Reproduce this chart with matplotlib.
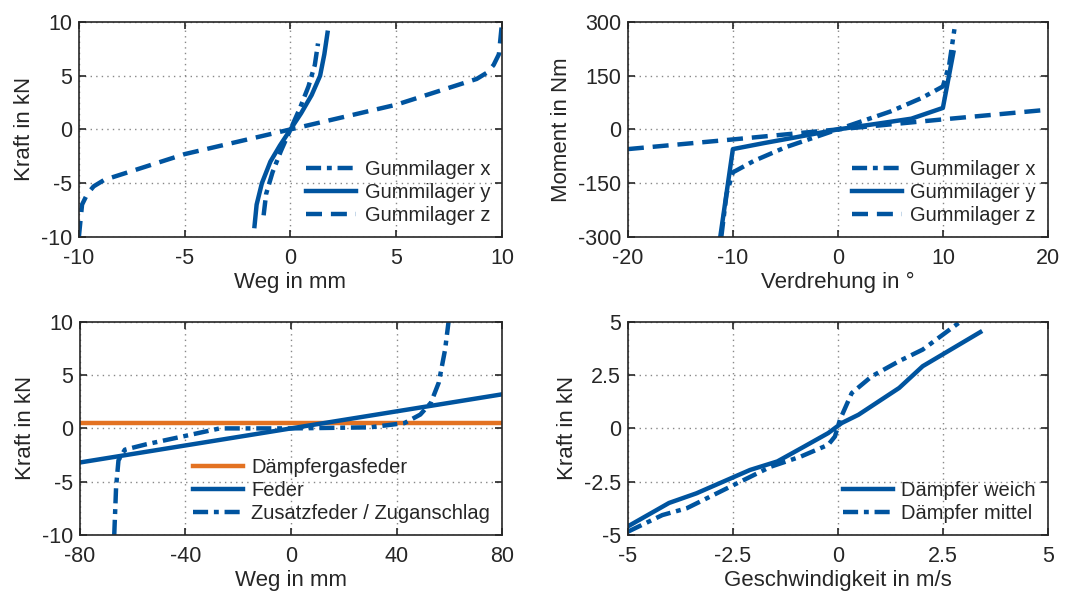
import matplotlib
matplotlib.use("Agg")
import matplotlib.pyplot as plt

plt.rcParams['font.family'] = ['Liberation Sans', 'DejaVu Sans']

blue = '#00549F'
orange = '#E37222'
dark = '#262626'

# Gummilager Kraft / Weg
gx_x = [-1.27, -1.15, -0.85, -0.45, 0, 0.45, 0.85, 1.15, 1.3]
gx_y = [-8, -6, -4, -2, 0, 2, 4, 6, 8]
gy_x = [-1.7, -1.6, -1.35, -0.95, -0.5, 0, 0.5, 1.0, 1.4, 1.6, 1.75]
gy_y = [-9, -7, -5, -3, -1.5, 0, 1.5, 3.2, 5, 7, 9]
gz_x = [-10, -9.85, -9.6, -9.3, -8.8, -5, 0, 5, 8.8, 9.3, 9.6, 9.85, 10]
gz_y = [-10, -7, -6, -5.3, -4.7, -2.3, 0, 2.3, 4.7, 5.3, 6, 7, 10]

# Gummilager Moment / Verdrehung
mx_x = [-11.1, -10.6, -10, -8, -5, -2, 0, 2, 5, 8, 10, 10.6, 11.1]
mx_y = [-300, -180, -120, -88, -50, -20, 0, 20, 50, 88, 120, 180, 280]
my_x = [-11.2, -10, -7, -4, 0, 4, 7, 10, 11]
my_y = [-300, -55, -38, -22, 0, 17, 30, 60, 215]
mz_x = [-20, -10, 0, 10, 20]
mz_y = [-55, -28, 0, 28, 55]

# Feder
gas_x = [-80, 80]
gas_y = [0.5, 0.5]
feder_x = [-80, 80]
feder_y = [-3.2, 3.2]
zus_x = [-67, -66.3, -65.4, -63, -55, -40, -27, 0, 30, 43, 49, 53, 56, 58.4, 59.7]
zus_y = [-10, -5.5, -3, -2.0, -1.5, -0.7, 0.0, 0.0, 0.1, 0.5, 1.3, 2.4, 4.3, 7.4, 10]

# Daempfer
dw_x = [-5, -4.02, -3.37, -2.09, -1.44, -0.8, -0.23, 0.09, 0.49, 1.46, 2.02, 3.39]
dw_y = [-4.6, -3.5, -3.05, -1.95, -1.55, -0.85, -0.22, 0.25, 0.64, 1.9, 2.92, 4.52]
dm_x = [-5, -4.18, -3.6, -2.73, -1.6, -0.88, -0.23, -0.07, 0.05, 0.33, 0.81, 1.46, 2.02, 2.91]
dm_y = [-4.85, -4.07, -3.75, -2.9, -1.8, -1.32, -0.77, -0.38, 0.41, 1.66, 2.45, 3.16, 3.7, 5.0]

fig = plt.figure(figsize=(10.66, 5.95), dpi=100)
ax1 = fig.add_axes([0.074, 0.602, 0.397, 0.361])
ax2 = fig.add_axes([0.589, 0.602, 0.394, 0.361])
ax3 = fig.add_axes([0.075, 0.101, 0.396, 0.358])
ax4 = fig.add_axes([0.589, 0.101, 0.394, 0.358])

lw = 3.2
dd = (0, (3.4, 1.3, 1.1, 1.3))
dash = (0, (3.6, 2))


def style(ax, xlim, ylim, xt, yt, xlabel, ylabel):
    ax.set_xlim(xlim)
    ax.set_ylim(ylim)
    ax.set_xticks(xt)
    ax.set_yticks(yt)
    ax.grid(True, linestyle=(0, (1, 3)), color='#888888', linewidth=1.0)
    ax.tick_params(direction='in', top=True, right=True, labelsize=15.5,
                   colors=dark, length=5, width=1.2)
    ax.tick_params(axis='x', pad=8)
    ax.tick_params(axis='y', pad=5)
    for s in ax.spines.values():
        s.set_color(dark)
        s.set_linewidth(1.2)
    ax.set_xlabel(xlabel, fontsize=16, color=dark, labelpad=2)
    ax.set_ylabel(ylabel, fontsize=16, color=dark, labelpad=4)


def legend(ax, loc):
    leg = ax.legend(loc=loc, frameon=False, fontsize=14.5, handlelength=2.5,
                    handletextpad=0.4, labelspacing=0.2, borderaxespad=0.2)
    for t in leg.get_texts():
        t.set_color(dark)


ax1.plot(gx_x, gx_y, color=blue, lw=lw, ls=dd, label='Gummilager x')
ax1.plot(gy_x, gy_y, color=blue, lw=lw, ls='-', label='Gummilager y')
ax1.plot(gz_x, gz_y, color=blue, lw=lw, ls=dash, label='Gummilager z')
style(ax1, (-10, 10), (-10, 10), [-10, -5, 0, 5, 10], [-10, -5, 0, 5, 10],
      'Weg in mm', 'Kraft in kN')
legend(ax1, 'lower right')

ax2.plot(mx_x, mx_y, color=blue, lw=lw, ls=dd, label='Gummilager x')
ax2.plot(my_x, my_y, color=blue, lw=lw, ls='-', label='Gummilager y')
ax2.plot(mz_x, mz_y, color=blue, lw=lw, ls=dash, label='Gummilager z')
style(ax2, (-20, 20), (-300, 300), [-20, -10, 0, 10, 20], [-300, -150, 0, 150, 300],
      'Verdrehung in °', 'Moment in Nm')
legend(ax2, 'lower right')

ax3.plot(gas_x, gas_y, color=orange, lw=lw, ls='-', label='Dämpfergasfeder')
ax3.plot(feder_x, feder_y, color=blue, lw=lw, ls='-', label='Feder')
ax3.plot(zus_x, zus_y, color=blue, lw=lw, ls=dd, label='Zusatzfeder / Zuganschlag')
style(ax3, (-80, 80), (-10, 10), [-80, -40, 0, 40, 80], [-10, -5, 0, 5, 10],
      'Weg in mm', 'Kraft in kN')
legend(ax3, 'lower right')

ax4.plot(dw_x, dw_y, color=blue, lw=lw, ls='-', label='Dämpfer weich')
ax4.plot(dm_x, dm_y, color=blue, lw=lw, ls=dd, label='Dämpfer mittel')
style(ax4, (-5, 5), (-5, 5), [-5, -2.5, 0, 2.5, 5], [-5, -2.5, 0, 2.5, 5],
      'Geschwindigkeit in m/s', 'Kraft in kN')
ax4.set_xticklabels(['-5', '-2.5', '0', '2.5', '5'])
ax4.set_yticklabels(['-5', '-2.5', '0', '2.5', '5'])
legend(ax4, 'lower right')

for ax in (ax1, ax2, ax3):
    ax.set_xticklabels([str(int(v)) for v in ax.get_xticks()])
    ax.set_yticklabels([str(int(v)) for v in ax.get_yticks()])

fig.savefig('out.png', dpi=100)
